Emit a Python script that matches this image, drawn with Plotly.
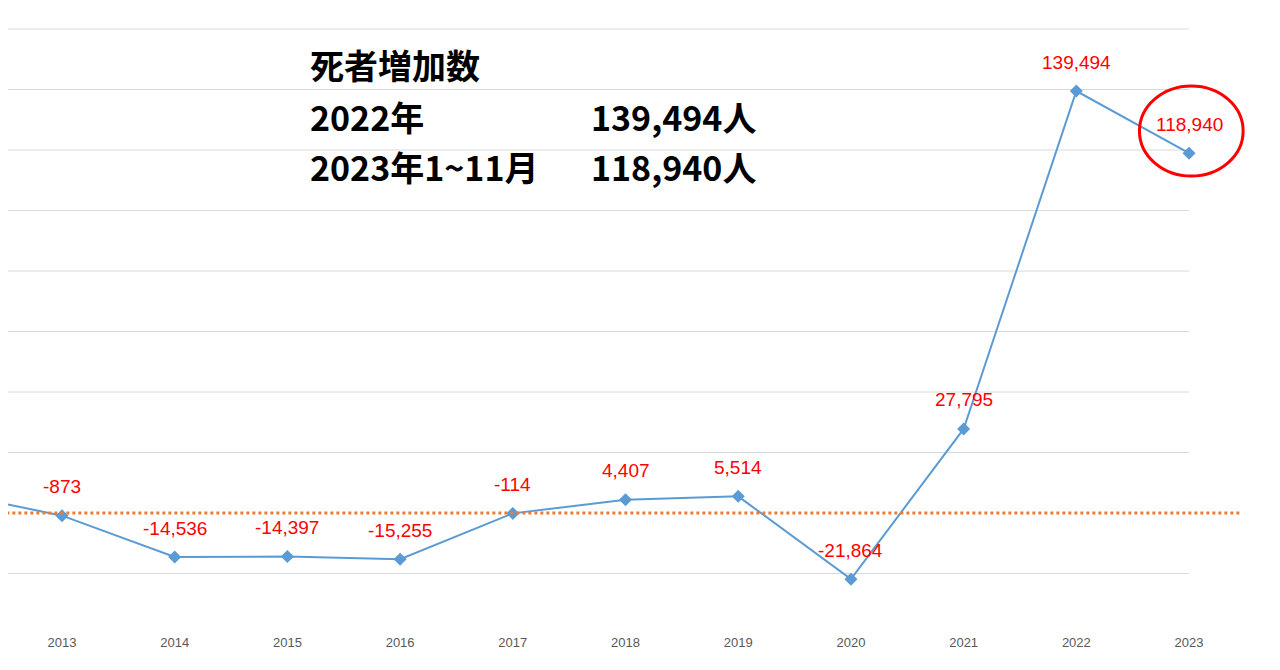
import plotly.graph_objects as go

# 死者増加数 (前年比)
years = [2012, 2013, 2014, 2015, 2016, 2017, 2018, 2019, 2020, 2021, 2022, 2023]
deaths_diff = [6900, -873, -14536, -14397, -15255, -114, 4407, 5514, -21864, 27795, 139494, 118940]
labels = ["", "-873", "-14,536", "-14,397", "-15,255", "-114", "4,407", "5,514",
          "-21,864", "27,795", "139,494", "118,940"]
grid_values = [-40000, -20000, 20000, 40000, 60000, 80000, 100000, 120000, 140000, 160000]

fig = go.Figure()
fig.add_trace(go.Scatter(
    x=years, y=deaths_diff, mode="lines+markers",
    line=dict(color="#5B9BD5", width=2),
    marker=dict(symbol="diamond", size=10, color="#5B9BD5"),
    cliponaxis=False,
))

shapes = []
for g in grid_values:
    shapes.append(dict(type="line", x0=2012.4, x1=2023, y0=g, y1=g,
                       line=dict(color="#D9D9D9", width=1), layer="below"))
# zero line
shapes.append(dict(type="line", x0=2012.4, x1=2023.46, y0=0, y1=0,
                   line=dict(color="#ED7D31", width=3, dash="dot")))
# red circle around 2023
shapes.append(dict(type="circle", x0=2022.56, x1=2023.48, y0=111400, y1=141200,
                   line=dict(color="#FF0000", width=3)))

annotations = []
for yr, v, lab in zip(years, deaths_diff, labels):
    if lab:
        annotations.append(dict(x=yr, y=v, text=lab, showarrow=False, yshift=29,
                                yanchor="middle",
                                font=dict(color="#FF0000", size=19, family="Liberation Sans")))

big = dict(size=34, color="black", family="Noto Sans CJK JP")
for txt, xx, anchor, yy in [("<b>死者増加数</b>", 300, "left", 56),
                            ("<b>2022年</b>", 300, "left", 108),
                            ("<b>2023年1~11月</b>", 300, "left", 158),
                            ("<b>139,494人</b>", 750, "right", 108),
                            ("<b>118,940人</b>", 750, "right", 158)]:
    annotations.append(dict(text=txt, x=xx/1280, y=1-yy/625, xref="paper", yref="paper",
                            xanchor=anchor, yanchor="middle", showarrow=False, font=big))

fig.update_layout(
    width=1280, height=670,
    margin=dict(l=0, r=0, t=0, b=45),
    plot_bgcolor="white", paper_bgcolor="white",
    showlegend=False,
    shapes=shapes, annotations=annotations,
    xaxis=dict(range=[2012.521, 2023.878], tickvals=years[1:], ticktext=[str(y) for y in years[1:]],
               showgrid=False, zeroline=False, showline=False,
               tickfont=dict(color="#595959", size=13, family="Liberation Sans")),
    yaxis=dict(range=[-39655, 166945], showgrid=False, zeroline=False, showticklabels=False),
)

fig.write_html("out.html")
